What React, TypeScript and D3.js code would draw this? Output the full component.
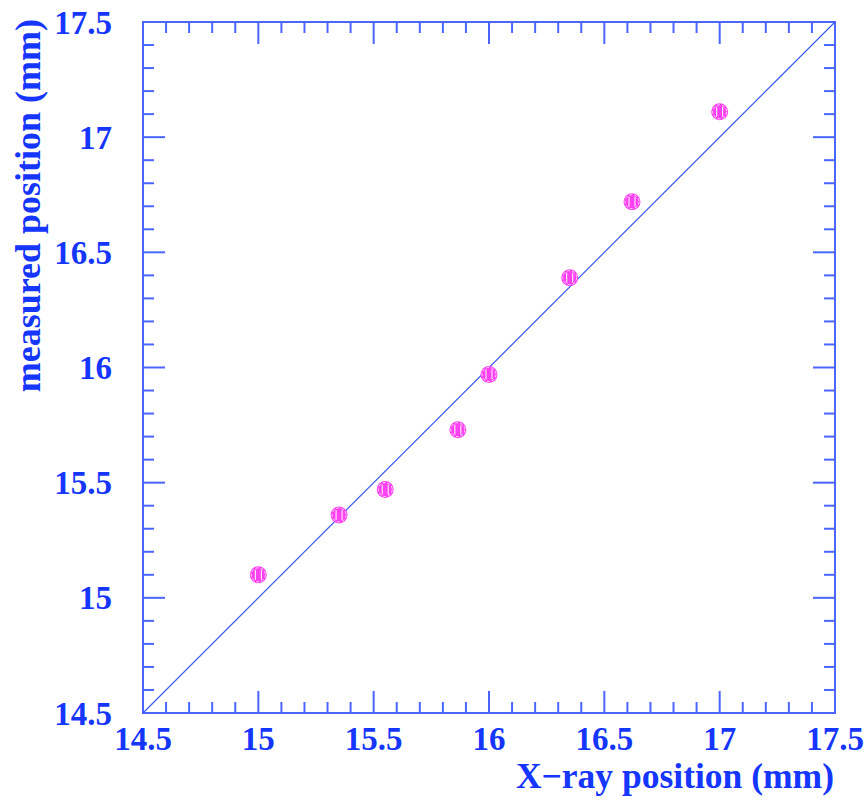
import { useEffect, useRef } from "react";
import * as d3 from "d3";

// X-ray position vs measured position (mm)
const xrayPos = [15.0, 15.35, 15.55, 15.865, 16.0, 16.35, 16.62, 17.0];
const measuredPos = [15.1, 15.36, 15.47, 15.73, 15.97, 16.39, 16.72, 17.11];
const tickLabels = ["14.5", "15", "15.5", "16", "16.5", "17", "17.5"];

const WIDTH = 867;
const HEIGHT = 804;

const App = () => {
  const svgRef = useRef<SVGSVGElement>(null);

  useEffect(() => {
    if (!svgRef.current) return;
    document.body.style.margin = "0";

    const svg = d3.select(svgRef.current);
    svg.selectAll("*").remove();

    const margin = { top: 22, right: 32, bottom: 91, left: 143 };
    const innerW = WIDTH - margin.left - margin.right;
    const innerH = HEIGHT - margin.top - margin.bottom;

    const axisColor = "#4a66ff";
    const textColor = "#1436ff";
    const font = "'Liberation Serif', 'Times New Roman', serif";

    const x = d3.scaleLinear().domain([14.5, 17.5]).range([0, innerW]);
    const y = d3.scaleLinear().domain([14.5, 17.5]).range([innerH, 0]);

    const g = svg.append("g").attr("transform", `translate(${margin.left}, ${margin.top})`);

    // frame
    g.append("rect")
      .attr("width", innerW)
      .attr("height", innerH)
      .attr("fill", "none")
      .attr("stroke", axisColor)
      .attr("stroke-width", 2);

    // ticks on all four sides, pointing inward
    const minor = d3.range(0, 31).map((i) => 14.5 + i * 0.1);
    const isMajor = (v: number) => Math.abs(v * 2 - Math.round(v * 2)) < 1e-6;
    const tickLen = (v: number) => (isMajor(v) ? 22 : 11);

    const ticks = g.append("g").attr("stroke", axisColor).attr("stroke-width", 2);
    minor.forEach((v) => {
      const len = tickLen(v);
      // bottom & top
      ticks.append("line").attr("x1", x(v)).attr("x2", x(v)).attr("y1", innerH).attr("y2", innerH - len);
      ticks.append("line").attr("x1", x(v)).attr("x2", x(v)).attr("y1", 0).attr("y2", len);
      // left & right
      ticks.append("line").attr("x1", 0).attr("x2", len).attr("y1", y(v)).attr("y2", y(v));
      ticks.append("line").attr("x1", innerW).attr("x2", innerW - len).attr("y1", y(v)).attr("y2", y(v));
    });

    const label = (sel: d3.Selection<SVGTextElement, any, any, any>, size: number) =>
      sel
        .attr("fill", textColor)
        .attr("font-family", font)
        .attr("font-weight", "bold")
        .attr("font-size", size);

    // tick labels
    g.append("g")
      .selectAll("text")
      .data(tickLabels)
      .enter()
      .append("text")
      .attr("x", (d) => x(+d))
      .attr("y", innerH + 37)
      .attr("text-anchor", "middle")
      .call(label, 33)
      .text((d) => d);

    g.append("g")
      .selectAll("text")
      .data(tickLabels)
      .enter()
      .append("text")
      .attr("x", -31)
      .attr("y", (d) => y(+d))
      .attr("dy", "0.35em")
      .attr("text-anchor", "end")
      .call(label, 33)
      .text((d) => d);

    // axis titles
    svg.append("text")
      .attr("x", margin.left + innerW - 1)
      .attr("y", 788)
      .attr("text-anchor", "end")
      .call(label, 35.5)
      .text("X\u2212ray position (mm)");

    svg.append("text")
      .attr("transform", `translate(40, ${margin.top - 3}) rotate(-90)`)
      .attr("text-anchor", "end")
      .call(label, 36)
      .text("measured position (mm)");

    // y = x reference line
    g.append("line")
      .attr("x1", x(14.5))
      .attr("y1", y(14.5))
      .attr("x2", x(17.5))
      .attr("y2", y(17.5))
      .attr("stroke", "#3a5af0")
      .attr("stroke-width", 1.2);

    // markers
    const pts = xrayPos.map((xv, i) => ({ x: xv, y: measuredPos[i] }));
    const marks = g.append("g");
    pts.forEach((d) => {
      const cx = x(d.x);
      const cy = y(d.y);
      marks.append("circle").attr("cx", cx).attr("cy", cy).attr("r", 8.5).attr("fill", "#ff40f0");
      marks.append("circle").attr("cx", cx).attr("cy", cy).attr("r", 7).attr("fill", "none")
        .attr("stroke", "white").attr("stroke-width", 0.8).attr("stroke-dasharray", "3 2");
      [-3, 3].forEach((dx) => {
        marks.append("line")
          .attr("x1", cx + dx).attr("x2", cx + dx)
          .attr("y1", cy - 5).attr("y2", cy + 5)
          .attr("stroke", "white").attr("stroke-width", 1);
      });
    });
  }, []);

  return <svg ref={svgRef} width={WIDTH} height={HEIGHT} style={{ display: "block", background: "white" }} />;
};

export default App;
